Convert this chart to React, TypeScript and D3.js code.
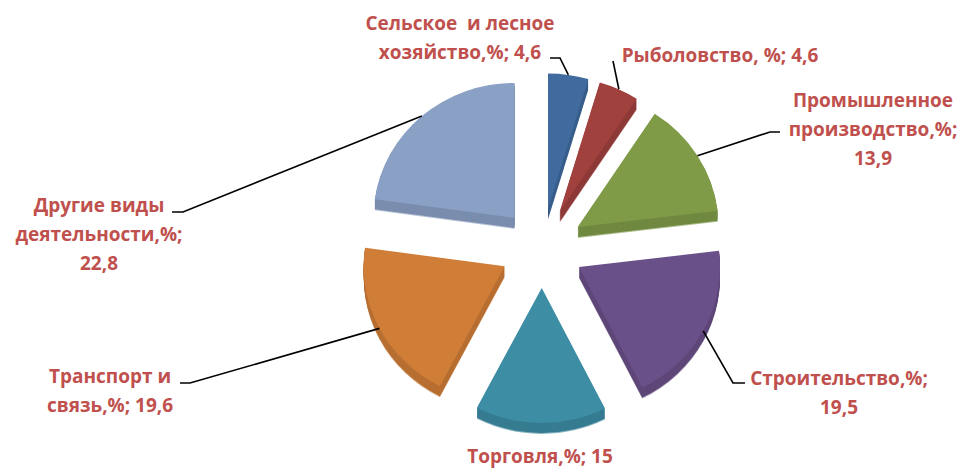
import React from 'react';
import * as d3 from 'd3';

// share of activities, %
const categories = [
  'Сельское и лесное хозяйство',
  'Рыболовство',
  'Промышленное производство',
  'Строительство',
  'Торговля',
  'Транспорт и связь',
  'Другие виды деятельности',
];
const values = [4.6, 4.6, 13.9, 19.5, 15, 19.6, 22.8];
const labelLines = [
  ['Сельское \u00A0и лесное', 'хозяйство,%; 4,6'],
  ['Рыболовство, %; 4,6'],
  ['Промышленное', 'производство,%;', '13,9'],
  ['Строительство,%;', '19,5'],
  ['Торговля,%; 15'],
  ['Транспорт и', 'связь,%; 19,6'],
  ['Другие виды', 'деятельности,%;', '22,8'],
];

const topColors = ['#416B9E', '#A0413E', '#7F9B48', '#6A5088', '#3D8DA4', '#CF7D37', '#8AA0C5'];

// label boxes: centre x, first baseline, and the leader's elbow points
const labelLayout = [
  { x: 460, y: 30, leader: [[550, 58], [560, 58]] },
  { x: 720, y: 62, leader: [[613, 61]] },
  { x: 873, y: 107, leader: [[780, 132], [770, 132]] },
  { x: 839, y: 385, leader: [[745, 383], [733, 383]] },
  { x: 540, y: 463, leader: [] },
  { x: 110, y: 383, leader: [[180, 383], [190, 383]] },
  { x: 99, y: 212, leader: [[172, 212], [183, 212]] },
];

const width = 962;
const height = 468;
const cx = 542;
const cy = 248;
const rx = 141;
const ry = 135;
const explode = 42;
const depth = 11;
const lineHeight = 29;

const App = () => {
  const pie = d3.pie<number>().sort(null).value(d => d);
  const arcs = pie(values);
  const arc = d3.arc<d3.PieArcDatum<number>>().innerRadius(0).outerRadius(rx);
  const k = ry / rx;

  const slices = arcs.map((a, i) => {
    const mid = (a.startAngle + a.endAngle) / 2;
    const ox = cx + explode * Math.sin(mid);
    const oy = cy - explode * Math.cos(mid) * 0.95;
    const edge = [ox + rx * Math.sin(mid), oy - ry * Math.cos(mid)];
    return { a, i, ox, oy, edge, path: arc(a) as string };
  });

  const layers = d3.range(depth, 0, -1);

  return (
    <svg width={width} height={height} style={{ display: 'block' }}>
      <style>{`body{margin:0}`}</style>
      <rect width={width} height={height} fill="#fff" />
      {slices.map(s => (
        <g key={'side' + s.i}>
          {layers.map(l => (
            <path
              key={l}
              d={s.path}
              transform={`translate(${s.ox},${s.oy + l}) scale(1,${k})`}
              fill={d3.color(topColors[s.i])!.darker(l === depth ? 0.15 : 0.35).toString()}
              opacity={l === depth ? 0.6 : 1}
            />
          ))}
        </g>
      ))}
      {slices.map(s => (
        <path
          key={'top' + s.i}
          d={s.path}
          transform={`translate(${s.ox},${s.oy}) scale(1,${k})`}
          fill={topColors[s.i]}
        >
          <title>{categories[s.i]}</title>
        </path>
      ))}
      {slices.map(s => {
        const lay = labelLayout[s.i];
        if (!lay.leader.length) return null;
        const pts = [...lay.leader, s.edge] as [number, number][];
        return (
          <path
            key={'lead' + s.i}
            d={d3.line()(pts) as string}
            fill="none"
            stroke="#000"
            strokeWidth={1.6}
          />
        );
      })}
      <g
        fontFamily="'Open Sans', 'Noto Sans', sans-serif"
        fontWeight={700}
        fontSize={19}
        fill="#C0504D"
        textAnchor="middle"
      >
        {labelLines.map((lines, i) => (
          <text key={i} x={labelLayout[i].x} y={labelLayout[i].y}>
            {lines.map((t, j) => (
              <tspan key={j} x={labelLayout[i].x} y={labelLayout[i].y + j * lineHeight}>
                {t}
              </tspan>
            ))}
          </text>
        ))}
      </g>
    </svg>
  );
};

export default App;
